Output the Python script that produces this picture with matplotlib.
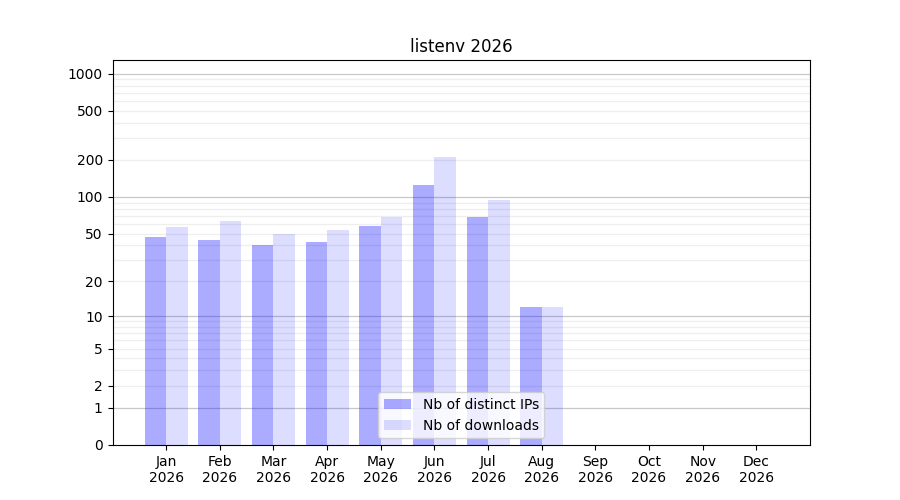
import matplotlib
matplotlib.use('Agg')
import matplotlib.pyplot as plt
import numpy as np

months = ['Jan', 'Feb', 'Mar', 'Apr', 'May', 'Jun', 'Jul', 'Aug', 'Sep', 'Oct', 'Nov', 'Dec']
year = '2026'
ips = [47, 44, 40, 43, 58, 126, 68, 12]
downloads = [57, 64, 50, 54, 68, 213, 94, 12]

ytick_vals = [0, 1, 2, 5, 10, 20, 50, 100, 200, 500, 1000]

def fwd(v):
    return np.log10(1 + np.maximum(v, 0))

def inv(v):
    return 10 ** v - 1

fig, ax = plt.subplots(figsize=(9, 5), dpi=100)
ax.set_yscale('function', functions=(fwd, inv))

# grid: decades darker, 2..9 lighter
for k in range(0, 4):
    ax.axhline(10 ** k, color='#c8c8c8', lw=0.9, zorder=0)
    if k < 3:
        for m in range(2, 10):
            ax.axhline(m * 10 ** k, color='#eeeeee', lw=0.9, zorder=0)

x = np.arange(len(ips))
w = 0.4
ax.bar(x - w / 2, ips, width=w, color='blue', alpha=0.33, label='Nb of distinct IPs', zorder=2)
ax.bar(x + w / 2, downloads, width=w, color='blue', alpha=0.135, label='Nb of downloads', zorder=2)

ax.set_xticks(np.arange(len(months)))
ax.set_xticklabels([m + '\n' + year for m in months])
ax.set_xlim(-1, 12)
ax.set_ylim(0, 1290)
ax.set_yticks(ytick_vals)
ax.set_yticklabels([str(v) for v in ytick_vals])
ax.minorticks_off()
ax.set_title('listenv 2026')
ax.legend(loc='lower center')

plt.savefig('out.png')
